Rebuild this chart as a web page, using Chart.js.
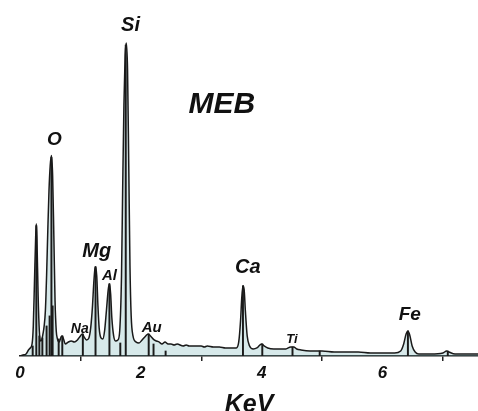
<!DOCTYPE html>
<html>
<head>
<meta charset="utf-8">
<script src="https://cdn.jsdelivr.net/npm/chart.js@4/dist/chart.umd.min.js"></script>
<style>
  html, body { margin: 0; padding: 0; background: #ffffff; }
  #wrap { width: 478px; height: 411px; }
</style>
</head>
<body>
<div id="wrap"><canvas id="c" width="478" height="411"></canvas></div>
<script>
// Spectrum: energy (keV) and counts (arbitrary units)
const energy = [
  0.00,0.05,0.10,0.14,0.17,0.20,0.22,0.24,0.26,0.27,0.28,0.30,0.32,0.34,0.36,0.38,0.40,0.42,0.44,0.46,
  0.48,0.50,0.52,0.54,0.56,0.58,0.60,0.62,0.65,0.68,0.70,0.72,0.75,0.80,0.85,0.90,0.95,1.00,1.03,1.06,
  1.10,1.14,1.17,1.20,1.22,1.24,1.25,1.27,1.29,1.31,1.34,1.37,1.40,1.43,1.46,1.48,1.50,1.52,1.55,1.58,
  1.62,1.65,1.68,1.70,1.72,1.74,1.76,1.78,1.80,1.82,1.84,1.87,1.92,1.97,2.02,2.08,2.12,2.16,2.22,2.26,
  2.30,2.35,2.40,2.45,2.50,2.55,2.60,2.70,2.75,2.80,2.90,3.00,3.05,3.10,3.20,3.30,3.40,3.50,3.58,3.62,
  3.65,3.67,3.69,3.71,3.73,3.76,3.80,3.86,3.92,3.97,4.00,4.04,4.10,4.20,4.30,4.40,4.48,4.53,4.58,4.65,
  4.80,5.00,5.20,5.40,5.60,5.80,6.00,6.20,6.30,6.35,6.39,6.42,6.45,6.49,6.54,6.60,6.80,7.00,7.06,7.10,
  7.20,7.40,7.58
];
const counts = [
  0,1,2,6,8,12,30,75,120,132,118,60,25,15,16,22,30,45,80,125,
  165,190,200,180,120,55,25,17,14,19,20,17,12,14,15,14,16,20,22,19,
  16,18,28,50,72,87,89,80,50,28,18,17,25,45,66,72,62,38,20,15,
  16,25,80,170,250,300,312,285,190,90,40,20,14,13,16,20,22,20,16,15,
  14,12,14,12,12,11,12,10,11,10,10,10,9,10,9,9,8,8,8,14,
  35,58,70,66,45,20,10,7,8,11,12,10,8,7,7,7,9,9,7,6,
  5,5,4,4,4,3,3,3,5,12,22,25,21,10,4,2,2,3,5,4,
  2,2,2
];
// Element marker lines (keV, height)
const markerEnergy = [0.21,0.27,0.32,0.37,0.44,0.49,0.52,0.54,0.64,0.70,1.04,1.25,1.48,1.66,1.75,2.13,2.21,2.41,3.69,4.01,4.51,4.96,6.42,7.08];
const markerHeight = [10,130,20,18,30,40,198,50,17,20,22,89,72,13,310,22,12,5,70,12,9,5,25,5];
// Peak labels
const labelText   = ['Si','O','Mg','Al','Na','Au','Ca','Ti','Fe','MEB'];
const labelEnergy = [1.83,0.57,1.27,1.48,0.99,2.18,3.77,4.50,6.45,3.34];
const labelCounts = [330,216,104,80,27,28,88,17,41,251];
const labelSize   = [20,19,20,15,14,15,20,13,19,30];
// Axis ticks
const tickValues = [0,2,4,6];

const FONT = "'Liberation Sans', Arial, Helvetica, sans-serif";

const spectrum = energy.map((e, i) => ({x: e, y: counts[i]}));
const markers = markerEnergy.map((e, i) => ({x: e, y: markerHeight[i]}));

const labelPlugin = {
  id: 'peakLabels',
  afterDatasetsDraw(chart) {
    const {ctx, scales: {x, y}} = chart;
    ctx.save();
    ctx.fillStyle = '#111';
    ctx.textAlign = 'center';
    ctx.textBaseline = 'middle';
    labelText.forEach((t, i) => {
      ctx.font = `italic bold ${labelSize[i]}px ${FONT}`;
      ctx.fillText(t, x.getPixelForValue(labelEnergy[i]), y.getPixelForValue(labelCounts[i]));
    });
    ctx.restore();
  }
};

new Chart(document.getElementById('c'), {
  type: 'line',
  data: {
    datasets: [
      {
        type: 'line',
        data: spectrum,
        borderColor: '#1a1a1a',
        borderWidth: 1.5,
        backgroundColor: 'rgba(110,175,180,0.28)',
        fill: 'origin',
        pointRadius: 0,
        cubicInterpolationMode: 'monotone',
        order: 2
      },
      {
        type: 'bar',
        data: markers,
        backgroundColor: '#1a1a1a',
        borderWidth: 0,
        barThickness: 1.3,
        order: 1
      }
    ]
  },
  options: {
    responsive: false,
    animation: false,
    events: [],
    layout: { padding: { left: 20, right: 0, top: 0, bottom: -4 } },
    plugins: { legend: { display: false }, tooltip: { enabled: false } },
    scales: {
      x: {
        type: 'linear',
        min: 0,
        max: 7.58,
        offset: false,
        afterBuildTicks: (s) => { s.ticks = tickValues.map(v => ({value: v})); },
        grid: { drawOnChartArea: false, drawTicks: true, tickLength: 5, color: '#222', lineWidth: 1.5 },
        border: { display: true, color: '#222', width: 1.5 },
        ticks: {
          color: '#111',
          padding: 4,
          maxRotation: 0,
          font: { family: FONT, size: 17, style: 'italic', weight: 'bold', lineHeight: 1 }
        },
        title: {
          display: true,
          text: 'KeV',
          color: '#111',
          padding: { top: 9, bottom: 0 },
          font: { family: FONT, size: 25, style: 'italic', weight: 'bold', lineHeight: 0.8 }
        }
      },
      y: {
        display: false,
        min: 0,
        max: 355
      }
    }
  },
  plugins: [labelPlugin]
});
</script>
</body>
</html>
